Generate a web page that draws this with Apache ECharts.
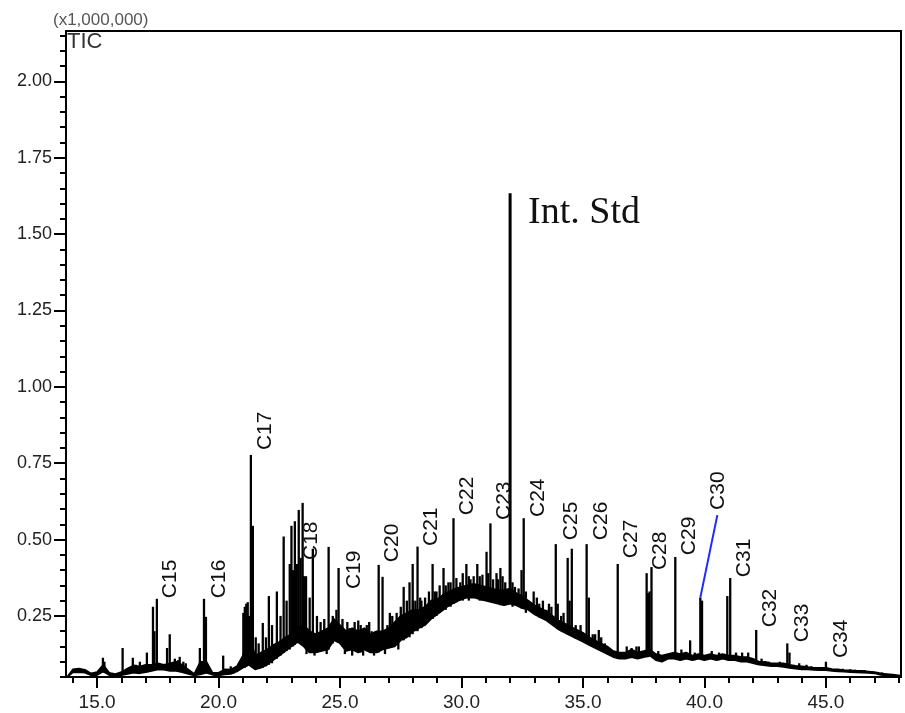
<!DOCTYPE html>
<html><head><meta charset="utf-8">
<script src="https://cdn.jsdelivr.net/npm/echarts@6/dist/echarts.min.js"></script>
<style>html,body{margin:0;padding:0;background:#fff}#c{width:905px;height:713px}</style>
</head><body><div id="c"></div>
<script>
// ---- data ----
// noisy baseline band: retention time, lower edge, upper edge (x1,000,000)
const bandRt   = [13.78,14.0,14.25,14.5,14.75,15.0,15.25,15.5,15.75,16.0,16.25,16.5,16.75,17.0,17.25,17.5,17.75,18.0,18.25,18.5,18.75,19.0,19.25,19.5,19.75,20.0,20.25,20.5,20.75,21.0,21.25,21.5,21.75,22.0,22.25,22.5,22.75,23.0,23.25,23.5,23.75,24.0,24.25,24.5,24.75,25.0,25.25,25.5,25.75,26.0,26.25,26.5,26.75,27.0,27.25,27.5,27.75,28.0,28.25,28.5,28.75,29.0,29.25,29.5,29.75,30.0,30.25,30.5,30.75,31.0,31.25,31.5,31.75,32.0,32.25,32.5,32.75,33.0,33.25,33.5,33.75,34.0,34.25,34.5,34.75,35.0,35.25,35.5,35.75,36.0,36.25,36.5,36.75,37.0,37.25,37.5,37.75,38.0,38.25,38.5,38.75,39.0,39.25,39.5,39.75,40.0,40.25,40.5,40.75,41.0,41.25,41.5,41.75,42.0,42.25,42.5,42.75,43.0,43.25,43.5,43.75,44.0,44.25,44.5,44.75,45.0,45.25,45.5,45.75,46.0,46.25,46.5,46.75,47.0,47.25,47.5,47.75,48.05];
const bandLow  = [0.05,0.065,0.066,0.064,0.056,0.056,0.068,0.056,0.055,0.056,0.06,0.064,0.062,0.066,0.07,0.075,0.074,0.07,0.07,0.066,0.06,0.055,0.058,0.064,0.057,0.055,0.058,0.06,0.068,0.08,0.09,0.075,0.08,0.09,0.105,0.12,0.135,0.15,0.165,0.15,0.13,0.13,0.135,0.14,0.17,0.16,0.135,0.14,0.13,0.14,0.13,0.13,0.14,0.145,0.15,0.17,0.18,0.2,0.21,0.22,0.24,0.255,0.27,0.285,0.295,0.305,0.31,0.31,0.305,0.3,0.295,0.29,0.285,0.29,0.285,0.275,0.27,0.255,0.245,0.235,0.22,0.205,0.195,0.185,0.175,0.165,0.155,0.145,0.135,0.125,0.115,0.11,0.11,0.115,0.11,0.115,0.12,0.105,0.1,0.11,0.11,0.105,0.11,0.105,0.11,0.105,0.11,0.105,0.11,0.105,0.105,0.1,0.1,0.095,0.09,0.088,0.085,0.085,0.083,0.08,0.077,0.075,0.075,0.073,0.072,0.072,0.07,0.068,0.067,0.066,0.065,0.064,0.063,0.062,0.057,0.055,0.052,0.05];
const bandHigh = [0.052,0.075,0.078,0.074,0.062,0.066,0.09,0.064,0.06,0.066,0.078,0.088,0.084,0.09,0.09,0.095,0.09,0.095,0.1,0.09,0.075,0.06,0.1,0.1,0.064,0.064,0.075,0.074,0.085,0.12,0.2,0.12,0.13,0.14,0.155,0.165,0.18,0.19,0.21,0.22,0.2,0.19,0.2,0.21,0.24,0.22,0.2,0.21,0.2,0.21,0.19,0.2,0.2,0.21,0.23,0.25,0.26,0.27,0.27,0.28,0.3,0.305,0.32,0.33,0.34,0.345,0.35,0.355,0.35,0.345,0.34,0.335,0.335,0.34,0.325,0.315,0.3,0.285,0.275,0.265,0.25,0.235,0.225,0.215,0.205,0.195,0.18,0.17,0.16,0.15,0.135,0.13,0.13,0.14,0.13,0.135,0.14,0.125,0.12,0.125,0.13,0.125,0.13,0.12,0.125,0.12,0.125,0.12,0.125,0.12,0.12,0.115,0.115,0.11,0.1,0.1,0.095,0.095,0.095,0.09,0.087,0.085,0.083,0.08,0.08,0.08,0.076,0.075,0.072,0.072,0.07,0.07,0.068,0.066,0.062,0.06,0.058,0.055];

// peaks and noise spikes: [retention time, foot, apex] (x1,000,000)
const peaks = [
  [15.24,0.065,0.113],[15.3,0.065,0.1],[16.05,0.058,0.145],[16.47,0.065,0.113],[16.6,0.065,0.09],
  [16.76,0.062,0.1],[17.05,0.066,0.13],[17.30,0.07,0.28],[17.36,0.07,0.2],[17.46,0.075,0.306],
  [17.88,0.072,0.145],[17.99,0.07,0.19],[18.2,0.07,0.11],[18.33,0.07,0.105],[18.4,0.07,0.116],
  [18.55,0.066,0.1],[18.65,0.062,0.095],[19.23,0.058,0.145],[19.40,0.06,0.306],[19.48,0.062,0.247],
  [20.19,0.058,0.12],[20.5,0.06,0.085],[20.62,0.062,0.08],
  [21.02,0.08,0.26],[21.08,0.08,0.28],[21.14,0.085,0.29],[21.2,0.09,0.295],[21.26,0.09,0.25],
  [21.33,0.09,0.777],[21.41,0.08,0.545],[21.53,0.075,0.18],[21.65,0.078,0.16],[21.82,0.08,0.227],
  [21.95,0.085,0.18],[22.07,0.09,0.315],[22.2,0.095,0.22],[22.4,0.11,0.33],[22.55,0.12,0.25],
  [22.68,0.13,0.51],[22.8,0.135,0.3],[22.93,0.14,0.42],[23.0,0.15,0.545],[23.07,0.15,0.4],
  [23.14,0.155,0.56],[23.22,0.16,0.42],[23.3,0.165,0.597],[23.38,0.16,0.44],[23.46,0.155,0.62],
  [23.52,0.15,0.38],[23.6,0.14,0.38],[23.75,0.13,0.31],[23.88,0.13,0.47],[24.05,0.13,0.25],
  [24.2,0.135,0.23],[24.35,0.14,0.24],[24.53,0.14,0.476],[24.7,0.16,0.25],[24.85,0.17,0.27],
  [24.94,0.17,0.407],[25.1,0.15,0.24],[25.4,0.14,0.21],[25.6,0.14,0.23],[25.85,0.13,0.22],
  [26.1,0.135,0.22],[26.3,0.13,0.2],[26.59,0.13,0.417],[26.75,0.14,0.378],[26.95,0.145,0.22],
  [27.15,0.15,0.25],[27.33,0.155,0.26],[27.62,0.17,0.345],[27.75,0.18,0.3],[27.86,0.18,0.36],
  [27.99,0.19,0.42],[28.1,0.2,0.3],[28.19,0.2,0.477],[28.35,0.21,0.3],[28.5,0.22,0.31],
  [28.66,0.235,0.33],[28.81,0.24,0.42],[28.97,0.25,0.33],[29.1,0.26,0.35],[29.26,0.27,0.407],
  [29.46,0.28,0.36],[29.67,0.29,0.57],[29.79,0.295,0.374],[29.95,0.3,0.36],[30.2,0.31,0.42],
  [30.37,0.31,0.37],[30.5,0.31,0.38],[30.65,0.31,0.42],[30.86,0.3,0.385],[31.03,0.3,0.46],
  [31.19,0.295,0.553],[31.3,0.295,0.37],[31.44,0.29,0.39],[31.6,0.285,0.407],[31.69,0.285,0.38],
  [31.8,0.285,0.36],[32.0,0.29,1.634],[32.2,0.285,0.345],[32.35,0.28,0.34],[32.47,0.275,0.4],
  [32.56,0.275,0.57],[32.75,0.27,0.3],[32.97,0.26,0.33],[33.2,0.245,0.29],[33.5,0.235,0.27],
  [33.7,0.225,0.28],[33.88,0.215,0.485],[33.96,0.21,0.29],[34.1,0.2,0.25],[34.37,0.19,0.44],
  [34.45,0.19,0.3],[34.54,0.185,0.47],[34.7,0.175,0.22],[35.15,0.16,0.485],[35.24,0.155,0.31],
  [35.4,0.15,0.19],[35.65,0.14,0.204],[35.75,0.135,0.18],[36.0,0.125,0.15],[36.43,0.11,0.42],
  [36.8,0.11,0.15],[37.0,0.115,0.145],[37.2,0.11,0.15],[37.3,0.11,0.15],[37.62,0.115,0.39],
  [37.68,0.115,0.325],[37.74,0.12,0.33],[37.82,0.12,0.41],[38.1,0.105,0.135],[38.8,0.11,0.443],
  [39.05,0.105,0.14],[39.41,0.11,0.17],[39.6,0.105,0.13],[39.83,0.11,0.31],[39.9,0.11,0.3],
  [40.3,0.11,0.135],[40.6,0.105,0.13],[40.94,0.105,0.315],[41.06,0.105,0.374],[41.3,0.105,0.13],
  [41.55,0.1,0.13],[41.8,0.1,0.13],[42.13,0.092,0.204],[42.35,0.09,0.11],[42.65,0.087,0.1],
  [43.1,0.085,0.1],[43.41,0.082,0.16],[43.5,0.08,0.13],[43.9,0.076,0.095],[44.2,0.075,0.09],
  [44.4,0.074,0.085],[45.0,0.072,0.1],[45.7,0.067,0.077],[46.0,0.066,0.075],[46.2,0.065,0.074],
  [46.6,0.064,0.072],[47.3,0.058,0.065],
  // small dips and spikes of the noisy hump
  [23.62,0.125,0.16],[23.95,0.12,0.15],[24.45,0.125,0.16],[25.2,0.125,0.16],[25.5,0.12,0.15],
  [25.95,0.12,0.16],[26.4,0.12,0.15],[26.85,0.125,0.16],[27.4,0.14,0.18],
  [25.3,0.16,0.23],[25.75,0.17,0.235],[26.2,0.17,0.23],[27.05,0.18,0.26],[27.5,0.2,0.28],
  [28.0,0.22,0.3],[28.3,0.23,0.31],[28.9,0.25,0.33],[29.35,0.27,0.35],[29.55,0.28,0.36],
  [30.05,0.3,0.39],[30.3,0.3,0.38],[30.75,0.3,0.38],[31.1,0.3,0.39],[31.5,0.29,0.37],
  [32.1,0.28,0.36],[32.65,0.26,0.33],[33.1,0.25,0.31],[33.35,0.24,0.3],[33.6,0.23,0.29],
  [34.2,0.2,0.26],[34.9,0.17,0.22],[35.5,0.145,0.19],[35.9,0.13,0.16]
];

// peak annotations (label text and its anchor in data units)
const labelNames = ['C15','C16','C17','C18','C19','C20','C21','C22','C23','C24','C25','C26','C27','C28','C29','C30','C31','C32','C33','C34'];
const labelRt    = [18.0,20.02,21.91,23.81,25.58,27.14,28.74,30.23,31.75,33.15,34.51,35.74,37.0,38.17,39.36,40.55,41.63,42.7,44.01,45.62];
const labelVal   = [0.371,0.371,0.856,0.496,0.401,0.489,0.542,0.643,0.627,0.637,0.561,0.561,0.502,0.463,0.512,0.66,0.44,0.276,0.227,0.175];
const stdLabel = 'Int. Std';
const stdLabelPos = [32.74, 1.568];
const connectorRt  = [39.83, 40.53];
const connectorVal = [0.31, 0.58];

// axis ticks
const xMajorTicks = [15,20,25,30,35,40,45];
const xMinorTicks = [14,15,16,17,18,19,20,21,22,23,24,25,26,27,28,29,30,31,32,33,34,35,36,37,38,39,40,41,42,43,44,45,46,47,48];
const yMajorTicks = [0.25,0.50,0.75,1.00,1.25,1.50,1.75,2.00];
const yMinorTicks = [0.05,0.10,0.15,0.20,0.25,0.30,0.35,0.40,0.45,0.50,0.55,0.60,0.65,0.70,0.75,0.80,0.85,0.90,0.95,1.00,1.05,1.10,1.15,1.20,1.25,1.30,1.35,1.40,1.45,1.50,1.55,1.60,1.65,1.70,1.75,1.80,1.85,1.90,1.95,2.00,2.05,2.10,2.15];

const X_MIN = 13.72, X_MAX = 48.09, Y_MIN = 0.05, Y_MAX = 2.165;
const SANS = '"Liberation Sans", Arial, sans-serif';

const chart = echarts.init(document.getElementById('c'), null, {renderer:'canvas'});

const baseX = {type:'value', min:X_MIN, max:X_MAX, gridIndex:0};
const baseY = {type:'value', min:Y_MIN, max:Y_MAX, gridIndex:0};

chart.setOption({
  animation:false,
  backgroundColor:'#fff',
  grid:{left:66, top:31, width:835, height:646, show:true, borderColor:'#000', borderWidth:2, backgroundColor:'transparent'},
  xAxis:[
    Object.assign({}, baseX, {
      axisLine:{show:true, lineStyle:{color:'#000', width:2}},
      axisTick:{show:true, length:11, inside:false, customValues:xMajorTicks, lineStyle:{color:'#000', width:2}},
      axisLabel:{show:true, customValues:xMajorTicks, margin:16, color:'#222', fontSize:19, fontFamily:SANS,
                 formatter:v=>Number(v).toFixed(1)},
      splitLine:{show:false}
    }),
    Object.assign({}, baseX, {
      position:'bottom',
      axisLine:{show:false},
      axisTick:{show:true, length:6, customValues:xMinorTicks, lineStyle:{color:'#000', width:2}},
      axisLabel:{show:false},
      splitLine:{show:false}
    })
  ],
  yAxis:[
    Object.assign({}, baseY, {
      axisLine:{show:true, lineStyle:{color:'#000', width:2}},
      axisTick:{show:true, length:12, customValues:yMajorTicks, lineStyle:{color:'#000', width:2}},
      axisLabel:{show:true, customValues:yMajorTicks, margin:14, color:'#222', fontSize:18, fontFamily:SANS,
                 formatter:v=>Number(v).toFixed(2)},
      splitLine:{show:false}
    }),
    Object.assign({}, baseY, {
      position:'left',
      axisLine:{show:false},
      axisTick:{show:true, length:6, customValues:yMinorTicks, lineStyle:{color:'#000', width:2}},
      axisLabel:{show:false},
      splitLine:{show:false}
    })
  ],
  graphic:[
    {type:'text', left:53, top:12, style:{text:'(x1,000,000)', font:'17px '+SANS, fill:'#555'}},
    {type:'text', left:67, top:31, style:{text:'TIC', font:'22px '+SANS, fill:'#333'}}
  ],
  series:[
    {
      type:'custom', name:'band', xAxisIndex:0, yAxisIndex:0, z:2, clip:true,
      data:[[bandRt[0], bandLow[0]]],
      encode:{x:0, y:1},
      renderItem:function(params, api){
        const pts = [];
        for (let i=0;i<bandRt.length;i++) pts.push(api.coord([bandRt[i], bandHigh[i]]));
        for (let i=bandRt.length-1;i>=0;i--) pts.push(api.coord([bandRt[i], bandLow[i]]));
        return {type:'polygon', shape:{points:pts}, style:{fill:'#000', stroke:'#000', lineWidth:1.6, lineJoin:'round'}};
      }
    },
    {
      type:'custom', name:'peaks', xAxisIndex:0, yAxisIndex:0, z:3, clip:true,
      data:peaks,
      encode:{x:0, y:[1,2]},
      renderItem:function(params, api){
        const rt = api.value(0), b = api.value(1), t = api.value(2);
        const p1 = api.coord([rt, b]), p2 = api.coord([rt, t]);
        return {type:'line', shape:{x1:p1[0], y1:p1[1], x2:p2[0], y2:p2[1]},
                style:{stroke:'#000', lineWidth: t > 1 ? 3 : 2.3}};
      }
    },
    {
      type:'line', name:'connector', xAxisIndex:0, yAxisIndex:0, z:4, symbol:'none',
      data:connectorRt.map((r,i)=>[r, connectorVal[i]]),
      lineStyle:{color:'#1f2bff', width:2}
    },
    {
      type:'custom', name:'labels', xAxisIndex:0, yAxisIndex:0, z:5, clip:false,
      data:labelRt.map((r,i)=>[r, labelVal[i]]),
      encode:{x:0, y:1},
      renderItem:function(params, api){
        const p = api.coord([api.value(0), api.value(1)]);
        return {type:'text', x:p[0], y:p[1], rotation:Math.PI/2,
                style:{text:labelNames[params.dataIndex], font:'21px '+SANS, fill:'#111',
                       align:'center', verticalAlign:'middle', textAlign:'center', textVerticalAlign:'middle'}};
      }
    },
    {
      type:'custom', name:'std', xAxisIndex:0, yAxisIndex:0, z:5, clip:false,
      data:[stdLabelPos],
      encode:{x:0, y:1},
      renderItem:function(params, api){
        const p = api.coord([api.value(0), api.value(1)]);
        return {type:'text', x:p[0], y:p[1],
                style:{text:stdLabel, font:'38px "Liberation Serif", "Times New Roman", serif', fill:'#111',
                       align:'left', verticalAlign:'middle', textAlign:'left', textVerticalAlign:'middle'}};
      }
    }
  ]
});
</script>
</body></html>
